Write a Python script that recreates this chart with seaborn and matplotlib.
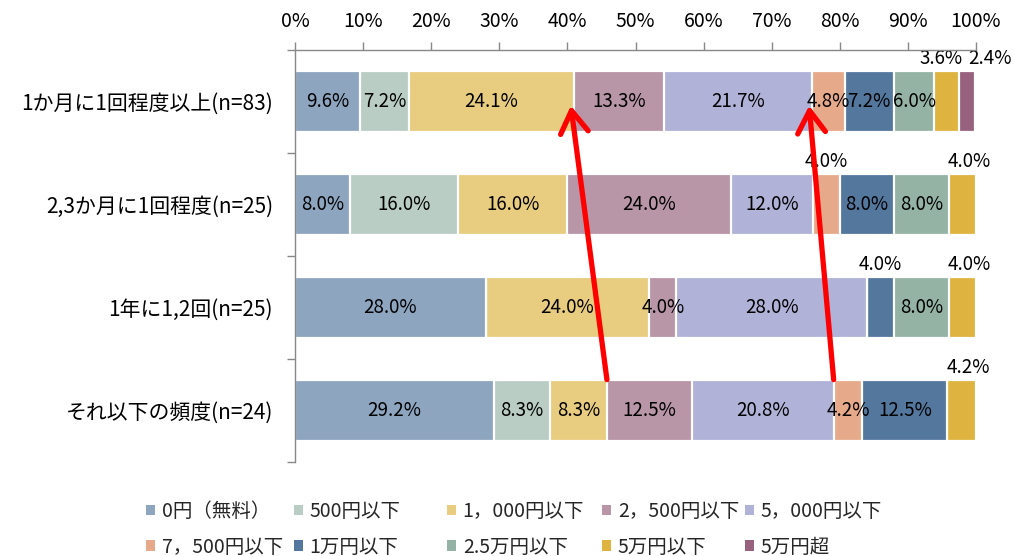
#!/usr/bin/env python3
"""Stacked horizontal bar chart: spending per visit by frequency band."""

import matplotlib

matplotlib.use("Agg")
import matplotlib.pyplot as plt
from matplotlib.patches import Patch
from matplotlib.ticker import FixedLocator, FuncFormatter, MultipleLocator
import numpy as np
import pandas as pd
import seaborn as sns


CATEGORIES = [
    "1か月に1回程度以上(n=83)",
    "2,3か月に1回程度(n=25)",
    "1年に1,2回(n=25)",
    "それ以下の頻度(n=24)",
]
SERIES = [
    "0円（無料）",
    "500円以下",
    "1，000円以下",
    "2，500円以下",
    "5，000円以下",
    "7，500円以下",
    "1万円以下",
    "2.5万円以下",
    "5万円以下",
    "5万円超",
]

# percent per category, one list per series
yen_0 = [9.6, 8.0, 28.0, 29.2]
yen_500 = [7.2, 16.0, 0.0, 8.3]
yen_1000 = [24.1, 16.0, 24.0, 8.3]
yen_2500 = [13.3, 24.0, 4.0, 12.5]
yen_5000 = [21.7, 12.0, 28.0, 20.8]
yen_7500 = [4.8, 4.0, 0.0, 4.2]
yen_10k = [7.2, 8.0, 4.0, 12.5]
yen_25k = [6.0, 8.0, 8.0, 0.0]
yen_50k = [3.6, 4.0, 4.0, 4.2]
yen_over_50k = [2.4, 0.0, 0.0, 0.0]
SERIES_VALUES = [
    yen_0, yen_500, yen_1000, yen_2500, yen_5000,
    yen_7500, yen_10k, yen_25k, yen_50k, yen_over_50k,
]

COLORS = [
    "#8EA5C0", "#B9CDC5", "#E8CD80", "#B895A7", "#B0B2D8",
    "#E6AA8A", "#54779E", "#94B3A5", "#DEB340", "#98627F",
]

# labels drawn above the bar instead of inside: (row, series) -> x shift in %
OUTSIDE_LABELS = {
    (0, 8): -0.8,
    (0, 9): 3.3,
    (1, 5): 0.0,
    (1, 8): 1.0,
    (2, 6): 0.0,
    (2, 8): 1.0,
    (3, 8): 1.0,
}

# red arrows linking segment boundaries (series index whose right edge is used)
ARROW_BOUNDARIES = [2, 4]

BAR_WIDTH = 0.6

# legend column left edges in figure fraction (two entries per column)
LEGEND_COLUMNS_X = [0.144, 0.290, 0.441, 0.594, 0.735]


def main() -> int:
    sns.set_style("white")
    plt.rcParams["font.family"] = ["Noto Sans CJK JP", "DejaVu Sans"]

    values = np.array(SERIES_VALUES)  # series x category
    cums = np.cumsum(values, axis=0)

    df = pd.DataFrame({"category": CATEGORIES})
    for i in range(len(SERIES)):
        df[f"cum_{i}"] = cums[i]

    fig = plt.figure(figsize=(10.14, 5.56), dpi=100)
    ax = fig.add_axes([0.291, 0.169, 0.6715, 0.741])

    # cumulative bars, right-most series first so each overlays the next
    for i in reversed(range(len(SERIES))):
        sns.barplot(
            data=df,
            x=f"cum_{i}",
            y="category",
            order=CATEGORIES,
            orient="h",
            color=COLORS[i],
            saturation=1,
            width=BAR_WIDTH,
            edgecolor="white",
            linewidth=1.6,
            ax=ax,
        )

    # segment labels
    for r in range(len(CATEGORIES)):
        for i in range(len(SERIES)):
            v = values[i, r]
            if v <= 0:
                continue
            center = cums[i, r] - v / 2.0
            label = f"{v:.1f}%"
            if (r, i) in OUTSIDE_LABELS:
                ax.text(center + OUTSIDE_LABELS[(r, i)], r - BAR_WIDTH / 2 - 0.02,
                        label, ha="center", va="bottom", fontsize=13.5,
                        color="black", zorder=4)
            else:
                ax.text(center, r, label, ha="center", va="center",
                        fontsize=13.5, color="black", zorder=4)

    # red arrows from the bottom row up to the top row
    last = len(CATEGORIES) - 1
    for s in ARROW_BOUNDARIES:
        ax.annotate(
            "",
            xy=(cums[s, 0] - 0.4, 0.04),
            xytext=(cums[s, last], last - BAR_WIDTH / 2),
            arrowprops=dict(
                arrowstyle="->,head_length=0.8,head_width=0.5",
                color="red",
                lw=3.8,
                mutation_scale=20,
                shrinkA=0,
                shrinkB=0,
            ),
            zorder=6,
        )

    ax.set_xlim(0, 100)
    ax.set_ylim(len(CATEGORIES) - 0.5, -0.5)
    ax.set_xlabel("")
    ax.set_ylabel("")

    ax.xaxis.tick_top()
    ax.xaxis.set_major_locator(MultipleLocator(10))
    ax.xaxis.set_major_formatter(FuncFormatter(lambda v, _p: f"{v:.0f}%"))
    ax.tick_params(axis="x", direction="out", length=6, width=1, color="#888888",
                   pad=7, labelsize=14, labelcolor="black")

    ax.yaxis.set_major_locator(FixedLocator(range(len(CATEGORIES))))
    ax.set_yticklabels(CATEGORIES)
    ax.yaxis.set_minor_locator(FixedLocator(np.arange(-0.5, len(CATEGORIES), 1.0)))
    ax.tick_params(axis="y", which="major", length=0, pad=16, labelsize=15,
                   labelcolor="black")
    ax.tick_params(axis="y", which="minor", direction="out", length=6, width=1,
                   color="#888888", left=True)

    for side in ("bottom", "right"):
        ax.spines[side].set_visible(False)
    for side in ("top", "left"):
        ax.spines[side].set_color("#888888")
        ax.spines[side].set_linewidth(1)
        ax.spines[side].set_zorder(5)

    # legend: two rows, five columns, row-major order like the source
    n_cols = len(LEGEND_COLUMNS_X)
    for c, x0 in enumerate(LEGEND_COLUMNS_X):
        idx = [c, c + n_cols]
        handles = [Patch(facecolor=COLORS[i], edgecolor="none") for i in idx]
        fig.legend(
            handles,
            [SERIES[i] for i in idx],
            loc="center left",
            bbox_to_anchor=(x0, 0.048),
            frameon=False,
            fontsize=14,
            handlelength=0.45,
            handleheight=0.45,
            handletextpad=0.35,
            labelspacing=0.75,
            borderaxespad=0,
            borderpad=0,
        )

    fig.savefig("out.png", dpi=100)
    plt.close(fig)
    return 0


if __name__ == "__main__":
    raise SystemExit(main())
